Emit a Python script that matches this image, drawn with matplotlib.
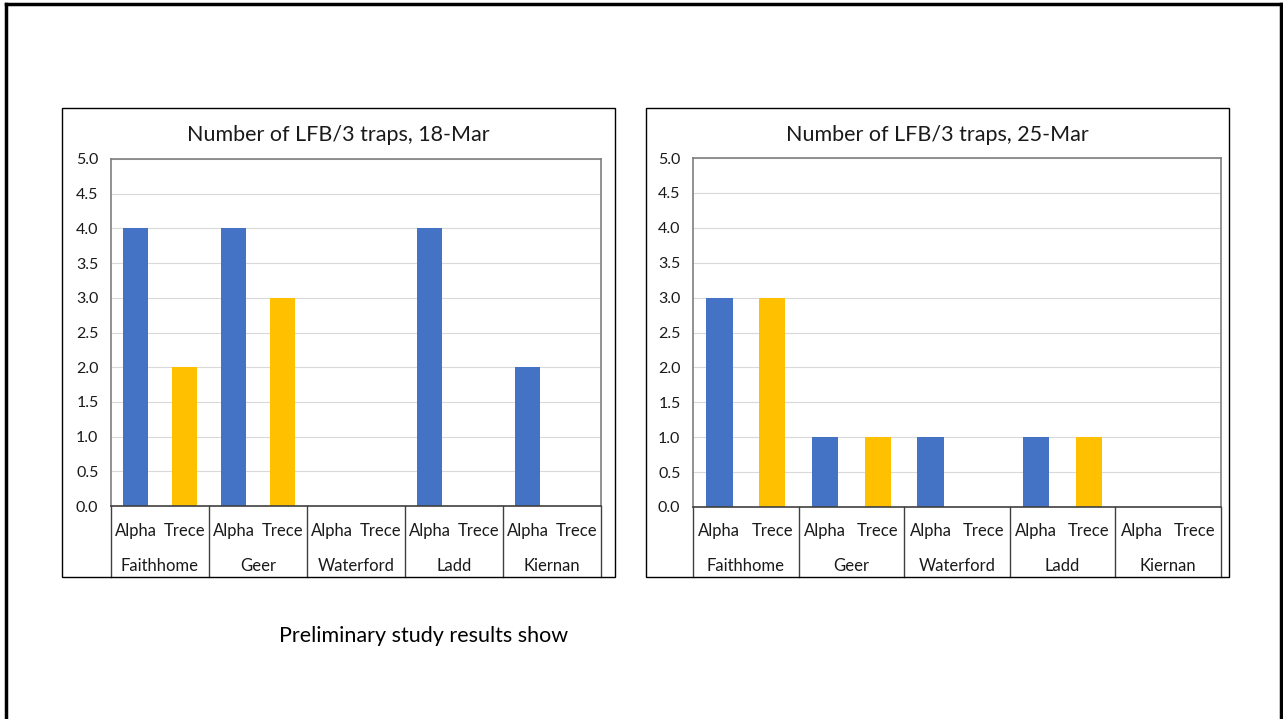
import matplotlib.pyplot as plt
from matplotlib.patches import Rectangle
from matplotlib.lines import Line2D

plt.rcParams['font.family'] = ['Lato', 'DejaVu Sans']

sites = ['Faithhome', 'Geer', 'Waterford', 'Ladd', 'Kiernan']
lures = ['Alpha', 'Trece']
alpha_18 = [4, 4, 0, 4, 2]
trece_18 = [2, 3, 0, 0, 0]
alpha_25 = [3, 1, 1, 1, 0]
trece_25 = [3, 1, 0, 1, 0]
titles = ['Number of LFB/3 traps, 18-Mar', 'Number of LFB/3 traps, 25-Mar']
yticks = [0.0, 0.5, 1.0, 1.5, 2.0, 2.5, 3.0, 3.5, 4.0, 4.5, 5.0]

BLUE = '#4472C4'
GOLD = '#FFC000'
W, H = 1283, 719

fig = plt.figure(figsize=(W / 100, H / 100), dpi=100)


def fx(px):
    return px / W


def fy(py):
    return 1 - py / H


# slide border (no bottom edge visible)
fig.add_artist(Line2D([fx(6), fx(6)], [fy(4), 0], color='black', lw=2.5))
fig.add_artist(Line2D([fx(6), fx(1281)], [fy(4), fy(4)], color='black', lw=2.5))
fig.add_artist(Line2D([fx(1281), fx(1281)], [fy(4), 0], color='black', lw=2.5))


def chart(box, plot, title, alpha_vals, trece_vals):
    bx0, by0, bx1, by1 = box
    fig.add_artist(Rectangle((fx(bx0), fy(by1)), fx(bx1 - bx0), (by1 - by0) / H,
                             fill=False, ec='black', lw=1.0))
    fig.text(fx((bx0 + bx1) / 2), fy(135), title, ha='center', va='center',
             fontsize=15.5, color='#1a1a1a')

    px0, py0, px1, py1 = plot
    ax = fig.add_axes([fx(px0), fy(py1), fx(px1 - px0), (py1 - py0) / H])
    n = len(sites)
    xa = [2 * i for i in range(n)]
    xt = [2 * i + 1 for i in range(n)]
    ax.bar(xa, alpha_vals, width=0.5, color=BLUE)
    ax.bar(xt, trece_vals, width=0.5, color=GOLD)
    ax.set_xlim(-0.5, 2 * n - 0.5)
    ax.set_ylim(0, 5)
    ax.set_yticks(yticks)
    ax.set_yticklabels([f'{v:.1f}' for v in yticks], fontsize=11.5, color='#1a1a1a')
    ax.tick_params(axis='y', length=0, pad=9)
    ax.set_xticks([])
    ax.grid(axis='y', color='#d9d9d9', lw=0.8)
    ax.set_axisbelow(True)
    for s in ax.spines.values():
        s.set_color('#7f7f7f')
        s.set_linewidth(1.2)
    ax.spines['bottom'].set_color('#404040')

    # multi-level category labels
    trans = ax.get_xaxis_transform()
    depth = (by1 - py1) / (py1 - py0)
    for g in range(n + 1):
        ax.add_line(Line2D([2 * g - 0.5, 2 * g - 0.5], [0, -depth], transform=trans,
                           color='#404040', lw=1.0, clip_on=False))
    row1 = -(531 - py1) / (py1 - py0)
    row2 = -(566 - py1) / (py1 - py0)
    for i, site in enumerate(sites):
        for j, lure in enumerate(lures):
            ax.text(2 * i + j, row1, lure, transform=trans, ha='center', va='center',
                    fontsize=12, color='#1a1a1a')
        ax.text(2 * i + 0.5, row2, site, transform=trans, ha='center', va='center',
                fontsize=12, color='#1a1a1a')
    return ax


chart((62, 108, 615, 577), (111, 159, 601, 506), titles[0], alpha_18, trece_18)
chart((646, 108, 1229, 577), (693, 158, 1221, 507), titles[1], alpha_25, trece_25)

fig.text(fx(424), fy(636), 'Preliminary study results show', ha='center', va='center',
         fontsize=15.5, color='black')

fig.savefig('out.png', dpi=100, facecolor='white')
